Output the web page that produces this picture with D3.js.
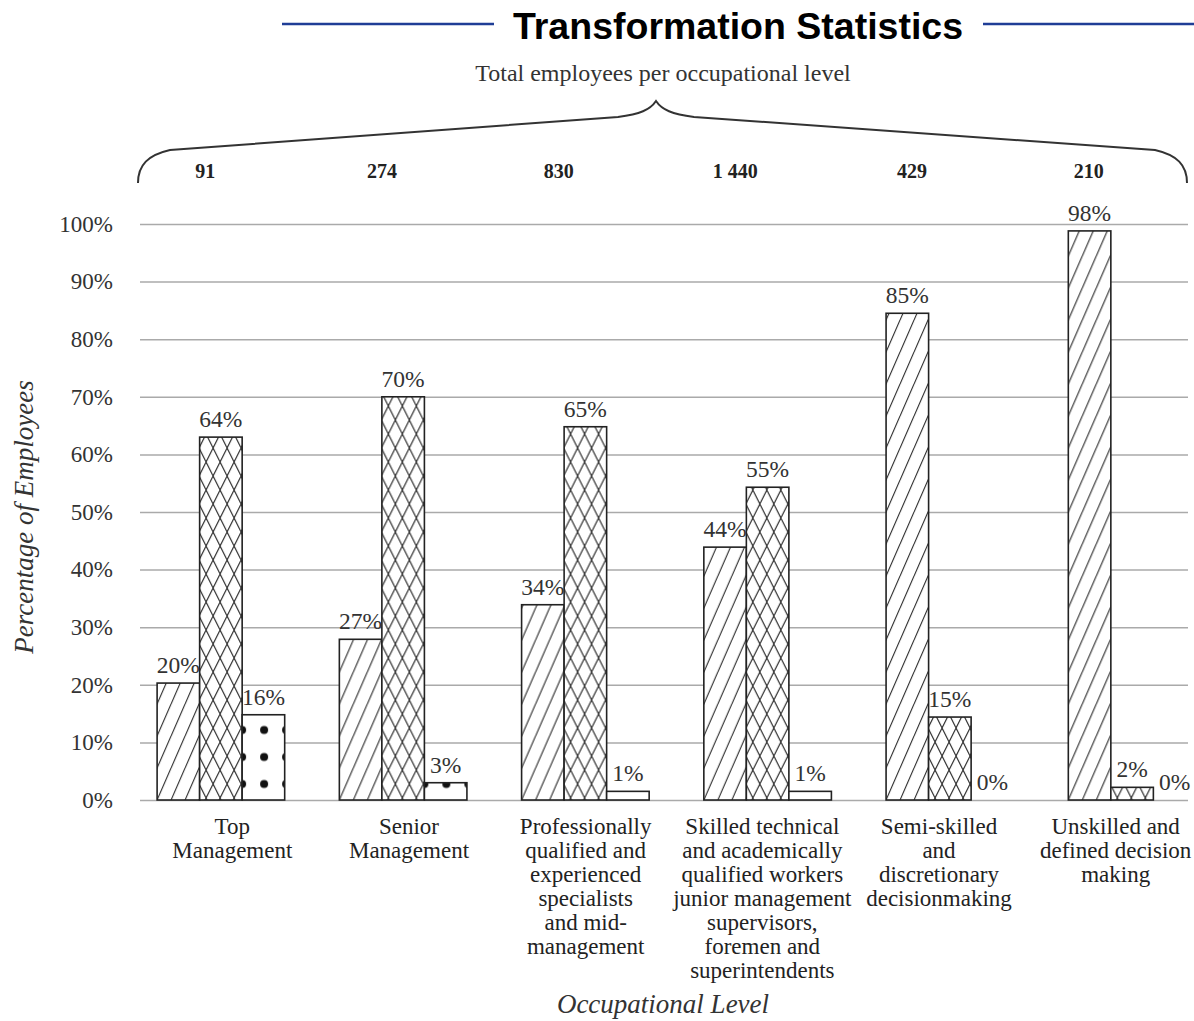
<!DOCTYPE html>
<html>
<head>
<meta charset="utf-8">
<script src="https://cdn.jsdelivr.net/npm/d3@7"></script>
<style>
  body { margin: 0; background: #fff; }
  svg text { font-family: "Liberation Serif", "Times New Roman", serif; }
</style>
</head>
<body>
<svg id="chart" width="1194" height="1021"></svg>
<script>
// categories and labels
var categories = ["Top Management", "Senior Management", "Professionally qualified", "Skilled technical", "Semi-skilled", "Unskilled"];
var categoryLines = [
    ["Top", "Management"],
    ["Senior", "Management"],
    ["Professionally", "qualified and", "experienced", "specialists", "and mid-", "management"],
    ["Skilled technical", "and academically", "qualified workers", "junior management", "supervisors,", "foremen and", "superintendents"],
    ["Semi-skilled", "and", "discretionary", "decisionmaking"],
    ["Unskilled and", "defined decision", "making"]
];
var totals = ["91", "274", "830", "1 440", "429", "210"];

// three series per level (bar heights as drawn, and the printed labels)
var series1 = [20.3, 27.9, 33.9, 43.9, 84.5, 98.8];
var series2 = [63, 70, 64.8, 54.3, 14.4, 2.2];
var series3 = [14.8, 3, 1.5, 1.5, 0, 0];
var labels1 = ["20%", "27%", "34%", "44%", "85%", "98%"];
var labels2 = ["64%", "70%", "65%", "55%", "15%", "2%"];
var labels3 = ["16%", "3%", "1%", "1%", "0%", "0%"];
var yTicks = [0, 10, 20, 30, 40, 50, 60, 70, 80, 90, 100];

var svg = d3.select("#chart");

// patterns
var defs = svg.append("defs");
var hatch = defs.append("pattern")
    .attr("id", "hatch")
    .attr("patternUnits", "userSpaceOnUse")
    .attr("width", 14).attr("height", 32);
hatch.append("rect").attr("width", 14).attr("height", 32).attr("fill", "#fff");
hatch.append("path").attr("d", "M0,32L14,0M-14,32L0,0M14,32L28,0")
    .attr("stroke", "#222").attr("stroke-width", 1.1);

var cross = defs.append("pattern")
    .attr("id", "cross")
    .attr("patternUnits", "userSpaceOnUse")
    .attr("width", 14).attr("height", 28);
cross.append("rect").attr("width", 14).attr("height", 28).attr("fill", "#fff");
cross.append("path").attr("d", "M0,28L14,0M-14,28L0,0M14,28L28,0M0,0L14,28M-14,0L0,28M14,0L28,28")
    .attr("stroke", "#222").attr("stroke-width", 1.1);

var dots = defs.append("pattern")
    .attr("id", "dots")
    .attr("patternUnits", "userSpaceOnUse")
    .attr("x", 8).attr("y", 14.5)
    .attr("width", 22).attr("height", 27);
dots.append("rect").attr("width", 22).attr("height", 27).attr("fill", "#fff");
dots.append("circle").attr("cx", 11).attr("cy", 13.5).attr("r", 4).attr("fill", "#111");

var fills = ["url(#hatch)", "url(#cross)", "url(#dots)"];

// scales
var y = d3.scaleLinear().domain([0, 100]).range([800, 224]);
var x = d3.scaleBand().domain(categories).range([148, 1205]).paddingInner(0.3).paddingOuter(0.05);
var xs = d3.scaleBand().domain([0, 1, 2]).range([0, x.bandwidth()]);
// category text sits on its own, slightly narrower band
var xl = d3.scaleBand().domain(categories).range([144, 1204]);

// title
svg.append("text")
    .attr("x", 738).attr("y", 39)
    .attr("text-anchor", "middle")
    .style("font-family", "'Liberation Sans', Arial, sans-serif")
    .style("font-weight", "bold")
    .style("font-size", "37.5px")
    .text("Transformation Statistics");
svg.append("line").attr("x1", 282).attr("x2", 494).attr("y1", 24).attr("y2", 24)
    .attr("stroke", "#1f3d96").attr("stroke-width", 2.5);
svg.append("line").attr("x1", 983).attr("x2", 1194).attr("y1", 24).attr("y2", 24)
    .attr("stroke", "#1f3d96").attr("stroke-width", 2.5);

svg.append("text")
    .attr("x", 663).attr("y", 81)
    .attr("text-anchor", "middle")
    .attr("fill", "#333")
    .style("font-size", "24px")
    .text("Total employees per occupational level");

// brace
svg.append("path")
    .attr("d", "M138,183 C138,165 148,155 170,150 L618,117 C640,114 650,110 656,101 C662,110 672,114 694,117 L1155,150 C1177,155 1187,165 1187,183")
    .attr("fill", "none").attr("stroke", "#333").attr("stroke-width", 2);

svg.append("g").selectAll("text")
    .data(categories)
    .join("text")
    .attr("x", (d) => xl(d) + xl.bandwidth() / 2 - 27)
    .attr("y", 178)
    .attr("text-anchor", "middle")
    .style("font-size", "20px")
    .style("font-weight", "bold")
    .attr("fill", "#222")
    .text((d, i) => totals[i]);

// gridlines + y axis labels
var yAxis = d3.axisLeft(y)
    .tickValues(yTicks)
    .tickSize(-1048)
    .tickPadding(27)
    .tickFormat((d) => d + "%");
var ga = svg.append("g").attr("transform", "translate(140,0)").call(yAxis);
ga.select(".domain").remove();
ga.selectAll(".tick line").attr("stroke", "#aaa").attr("stroke-width", 1.5);
ga.selectAll(".tick text")
    .attr("fill", "#333")
    .style("font-family", "'Liberation Serif', serif")
    .style("font-size", "23px");

svg.append("text")
    .attr("transform", "translate(33,517) rotate(-90)")
    .attr("text-anchor", "middle")
    .attr("fill", "#333")
    .style("font-size", "27px")
    .style("font-style", "italic")
    .text("Percentage of Employees");

// bars
var allSeries = [series1, series2, series3];
var allLabels = [labels1, labels2, labels3];
var groups = svg.append("g").selectAll("g")
    .data(categories)
    .join("g")
    .attr("transform", (d) => "translate(" + x(d) + ",0)");

groups.selectAll("rect")
    .data((d, i) => allSeries.map((s, k) => ({ k: k, v: s[i] })).filter((e) => e.v > 0))
    .join("rect")
    .attr("x", (d) => xs(d.k))
    .attr("width", xs.bandwidth())
    .attr("y", (d) => y(d.v))
    .attr("height", (d) => y(0) - y(d.v))
    .attr("fill", (d) => fills[d.k])
    .attr("stroke", "#222")
    .attr("stroke-width", 1.6);

groups.selectAll("text")
    .data((d, i) => allSeries.map((s, k) => ({ k: k, v: s[i], t: allLabels[k][i] })))
    .join("text")
    .attr("x", (d) => xs(d.k) + xs.bandwidth() / 2)
    .attr("y", (d) => y(d.v) - 10)
    .attr("text-anchor", "middle")
    .attr("fill", "#333")
    .style("font-size", "23.5px")
    .text((d) => d.t);

// category labels
var cl = svg.append("g").selectAll("text")
    .data(categories)
    .join("text")
    .attr("x", (d) => xl(d) + xl.bandwidth() / 2)
    .attr("y", 834)
    .attr("text-anchor", "middle")
    .attr("fill", "#222")
    .style("font-size", "23px");
cl.selectAll("tspan")
    .data((d, i) => categoryLines[i])
    .join("tspan")
    .attr("x", function () { return this.parentNode.getAttribute("x"); })
    .attr("dy", (d, j) => (j === 0 ? 0 : 24))
    .text((d) => d);

svg.append("text")
    .attr("x", 663).attr("y", 1013)
    .attr("text-anchor", "middle")
    .attr("fill", "#333")
    .style("font-size", "27px")
    .style("font-style", "italic")
    .text("Occupational Level");
</script>
</body>
</html>
